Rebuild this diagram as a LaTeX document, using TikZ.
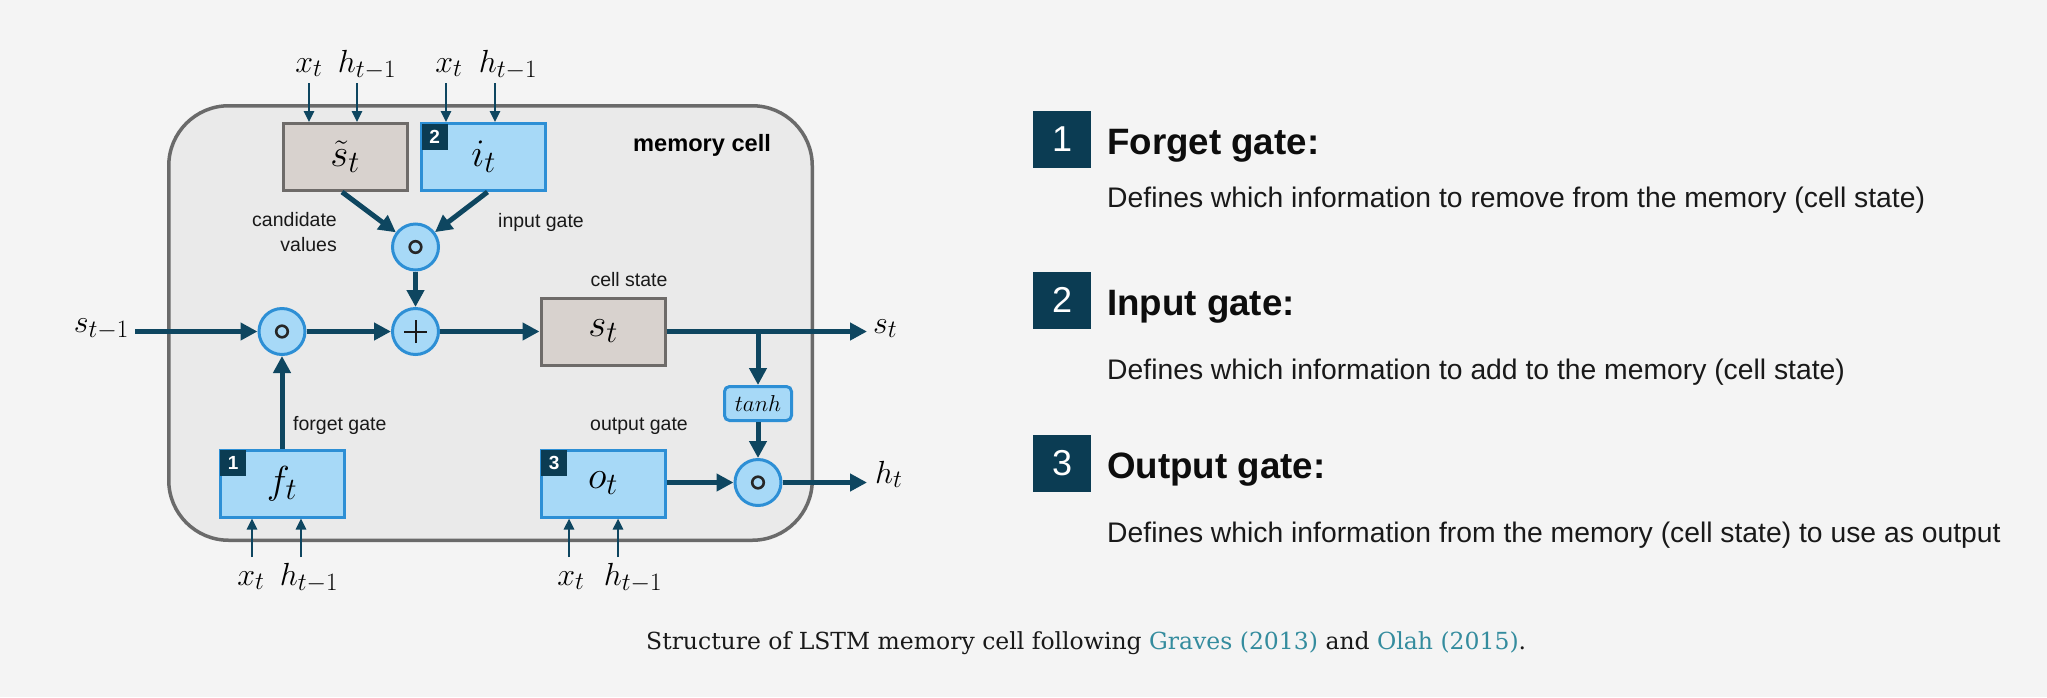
\documentclass[tikz,border=0pt]{standalone}
\usepackage{fix-cm}
\usepackage{fontspec}
\setmainfont{Liberation Sans}
\newfontfamily\capfont{DejaVu Serif}
\usetikzlibrary{arrows.meta,calc}
\DeclareMathSizes{32}{32}{25}{20}
\DeclareMathSizes{39}{39}{31}{25}

\definecolor{bg}{HTML}{F4F4F4}
\definecolor{cellfill}{HTML}{EAEAEA}
\definecolor{cellline}{HTML}{6A6A6A}
\definecolor{navy}{HTML}{0E4660}
\definecolor{badgec}{HTML}{0B3C53}
\definecolor{bluefill}{HTML}{A7D9F7}
\definecolor{blueline}{HTML}{2D8FD5}
\definecolor{grayfill}{HTML}{D8D2CE}
\definecolor{grayline}{HTML}{6E6B69}
\definecolor{linkc}{HTML}{348C9E}

\tikzset{
  cellbox/.style={draw=cellline, fill=cellfill, line width=3.5pt, rounded corners=60pt,
    minimum width=643.5pt, minimum height=434.5pt, inner sep=0pt},
  gatebox/.style={draw=blueline, fill=bluefill, line width=3pt, minimum width=124pt,
    minimum height=67pt, inner sep=0pt, font=\fontsize{39}{42}\selectfont},
  candbox/.style={draw=grayline, fill=grayfill, line width=3pt, minimum width=124pt,
    minimum height=67pt, inner sep=0pt, font=\fontsize{39}{42}\selectfont},
  opcircle/.style={circle, draw=blueline, fill=bluefill, line width=3pt, minimum size=46pt, inner sep=0pt},
  mulsym/.style={path picture={\draw[line width=2.6pt, black!85] (path picture bounding box.center) circle (5.8pt);}},
  plussym/.style={path picture={\draw[line width=2pt, black!90]
      ($(path picture bounding box.center)+(-11.5pt,0pt)$) -- ($(path picture bounding box.center)+(11.5pt,0pt)$)
      ($(path picture bounding box.center)+(0pt,-11.5pt)$) -- ($(path picture bounding box.center)+(0pt,11.5pt)$);}},
  tanhbox/.style={draw=blueline, fill=bluefill, line width=3pt, rounded corners=5pt,
    minimum width=67pt, minimum height=34pt, inner sep=0pt, font=\fontsize{23}{26}\selectfont},
  flow/.style={draw=navy, line width=5pt, -{Triangle[length=17pt,width=17pt]}},
  inflow/.style={draw=navy, line width=2.5pt, -{Triangle[length=11pt,width=10pt]}},
  smalllabel/.style={font=\fontsize{19.5}{25}\selectfont, text=black!90, inner sep=0pt},
  varlabel/.style={font=\fontsize{32}{34}\selectfont, inner sep=0pt, anchor=base},
  numbadge/.style={fill=badgec, text=white, font=\bfseries\fontsize{19}{20}\selectfont,
    minimum size=26pt, inner sep=0pt, anchor=north west},
  bigbadge/.style={fill=badgec, text=white, font=\fontsize{36}{40}\selectfont,
    minimum width=58pt, minimum height=57pt, inner sep=0pt},
  headtext/.style={font=\bfseries\fontsize{36.7}{40}\selectfont, anchor=base west, inner sep=0pt, text=black!95},
  desctext/.style={font=\fontsize{28.3}{32}\selectfont, anchor=base west, inner sep=0pt, text=black!90},
}

\begin{document}
\begin{tikzpicture}[x=1pt,y=-1pt]
\fill[bg] (0,0) rectangle (2047,697);
\useasboundingbox (0,0) rectangle (2047,697);

% memory cell
\node[cellbox] (mem) at (490.5,323) {};
\node[font=\bfseries\fontsize{23.6}{26}\selectfont, anchor=base west, inner sep=0pt] (memlabel) at (633,151) {memory cell};

% boxes
\node[candbox] (stilde) at (345,157) {$\tilde{s}_t$};
\node[gatebox] (ibox) at (483.5,157) {$i_t$};
\node[candbox] (sbox) at (603,331.5) {$s_t$};
\node[gatebox] (fbox) at (282,483.5) {$f_t$};
\node[gatebox] (obox) at (603,483.5) {$o_t$};
\node[tanhbox] (tanh) at (758,403.5) {$tanh$};

% badges in boxes
\node[numbadge] (bi) at ($(ibox.north west)+(1.5,1.5)$) {2};
\node[numbadge] (bf) at ($(fbox.north west)+(1.5,1.5)$) {1};
\node[numbadge] (bo) at ($(obox.north west)+(1.5,1.5)$) {3};

% operators
\node[opcircle, mulsym] (mulI) at (415.5,247) {};
\node[opcircle, plussym] (plus) at (415.5,331.5) {};
\node[opcircle, mulsym] (mulF) at (282,331.5) {};
\node[opcircle, mulsym] (mulO) at (758,482.5) {};

% small labels
\node[smalllabel, align=right, anchor=east] (candlabel) at (337,232.5) {candidate\\values};
\node[smalllabel, anchor=base west] (inlabel) at (498,227) {input gate};
\node[smalllabel, anchor=base] (cslabel) at (629,286) {cell state};
\node[smalllabel, anchor=base west] (fglabel) at (293,430) {forget gate};
\node[smalllabel, anchor=base] (oglabel) at (639,430) {output gate};

% free ends
\coordinate (sin) at (135,331.5);
\coordinate (sout) at (867,331.5);
\coordinate (hout) at (867,482.5);
\coordinate (t1) at (309,83);
\coordinate (t2) at (357,83);
\coordinate (t3) at (446,83);
\coordinate (t4) at (495,83);
\coordinate (u1) at (252,557);
\coordinate (u2) at (301,557);
\coordinate (u3) at (569,557);
\coordinate (u4) at (618,557);

% outer variable labels
\node[varlabel, anchor=base east] (lsin) at (129,332) {$s_{t-1}$};
\node[varlabel, anchor=base west] (lsout) at (873,333) {$s_t$};
\node[varlabel, anchor=base west] (lhout) at (875,483) {$h_t$};
\node[varlabel] (lx1) at (309,72) {$x_t$};
\node[varlabel] (lh1) at (367,72) {$h_{t-1}$};
\node[varlabel] (lx2) at (449,72) {$x_t$};
\node[varlabel] (lh2) at (508,72) {$h_{t-1}$};
\node[varlabel] (lx3) at (251,585) {$x_t$};
\node[varlabel] (lh3) at (309,585) {$h_{t-1}$};
\node[varlabel] (lx4) at (571,585) {$x_t$};
\node[varlabel] (lh4) at (633,585) {$h_{t-1}$};

% connectors
\draw[flow] (sin) -- (mulF);
\draw[flow] (mulF) -- (plus);
\draw[flow] (plus) -- (sbox);
\draw[flow] (sbox) -- (sout);
\draw[flow] (tanh |- sout) -- (tanh);
\draw[flow] (tanh) -- (mulO);
\draw[flow] (obox.east |- mulO) -- (mulO);
\draw[flow] (mulO) -- (hout);
\draw[flow] (fbox) -- (mulF);
\draw[flow] (mulI) -- (plus);
\draw[flow] ($(stilde.south)+(-3,0)$) -- (mulI);
\draw[flow] ($(ibox.south)+(4,0)$) -- (mulI);

\draw[inflow] (t1) -- (t1 |- stilde.north);
\draw[inflow] (t2) -- (t2 |- stilde.north);
\draw[inflow] (t3) -- (t3 |- ibox.north);
\draw[inflow] (t4) -- (t4 |- ibox.north);
\draw[inflow] (u1) -- (u1 |- fbox.south);
\draw[inflow] (u2) -- (u2 |- fbox.south);
\draw[inflow] (u3) -- (u3 |- obox.south);
\draw[inflow] (u4) -- (u4 |- obox.south);

% right-hand legend
\node[bigbadge] (g1) at (1062,139.5) {1};
\node[bigbadge] (g2) at (1062,300) {2};
\node[bigbadge] (g3) at (1062,463) {3};
\node[headtext] (h1) at (1107,154) {Forget gate:};
\node[desctext] (d1) at (1107,207) {Defines which information to remove from the memory (cell state)};
\node[headtext] (h2) at (1107,315) {Input gate:};
\node[desctext] (d2) at (1107,379) {Defines which information to add to the memory (cell state)};
\node[headtext] (h3) at (1107,478) {Output gate:};
\node[desctext] (d3) at (1107,542) {Defines which information from the memory (cell state) to use as output};

% caption
\node[font=\capfont\fontsize{23.5}{28}\selectfont, anchor=base west, inner sep=0pt, text=black!90] (cap) at (646,649)
  {Structure of LSTM memory cell following \textcolor{linkc}{Graves (2013)} and \textcolor{linkc}{Olah (2015)}.};
\end{tikzpicture}
\end{document}
